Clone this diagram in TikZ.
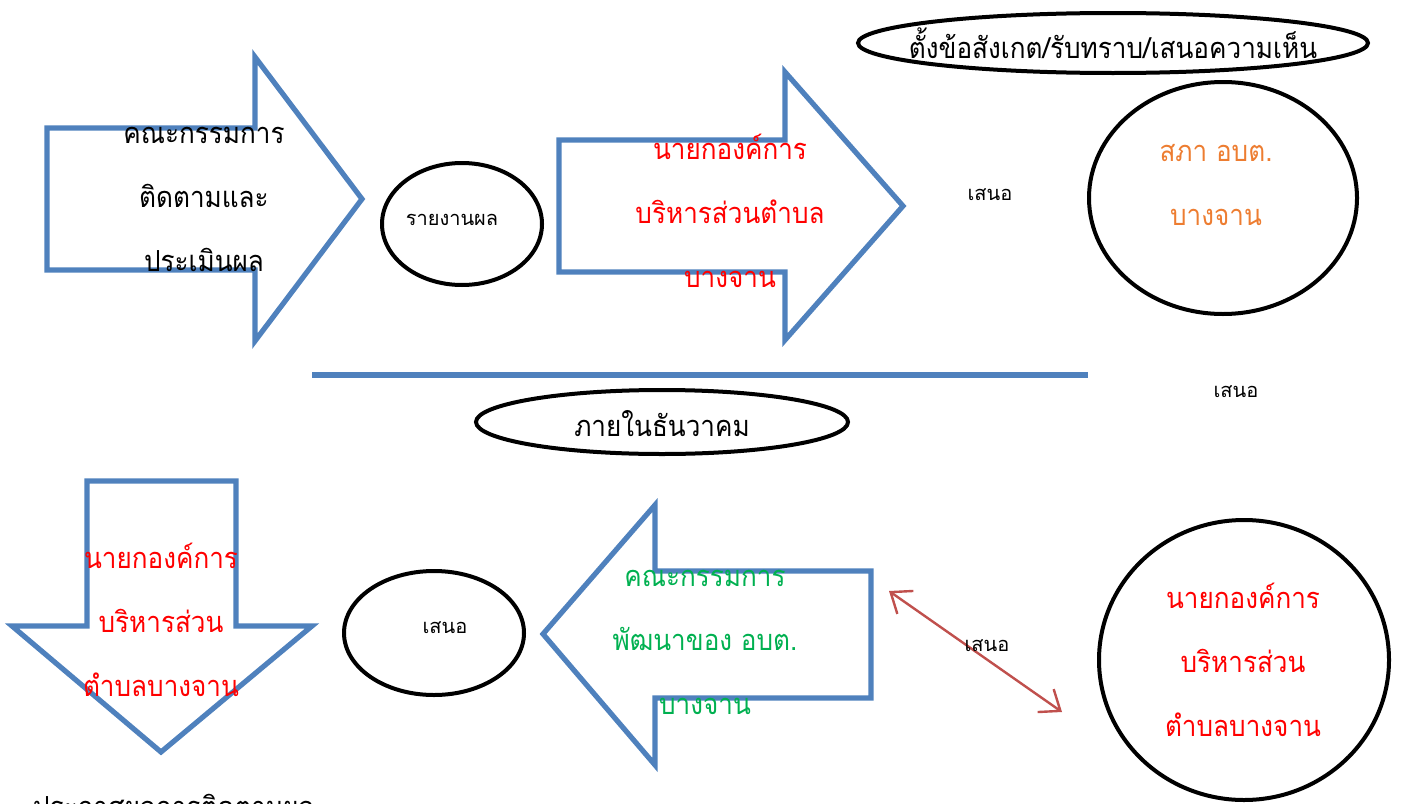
\documentclass[tikz,border=0pt]{standalone}
\usepackage{fontspec}
\newfontfamily\thaifont[Script=Thai,FakeStretch=0.9]{Loma}
\newfontfamily\thaismall[Script=Thai]{Loma}
\usetikzlibrary{arrows.meta}

\definecolor{arrowblue}{RGB}{79,129,189}
\definecolor{linkred}{RGB}{192,80,77}
\definecolor{txtorange}{RGB}{237,125,49}
\definecolor{txtgreen}{RGB}{0,176,80}

\tikzset{
  bigarrow/.style={draw=arrowblue,line width=2.6pt,line join=miter},
  bubble/.style={draw=black,line width=2pt},
  bigtext/.style={font=\thaifont\fontsize{14.5}{32}\selectfont,align=center},
  smalltext/.style={font=\thaismall\fontsize{10}{12}\selectfont}
}

\begin{document}
\begin{tikzpicture}[x=0.5pt,y=-0.5pt]
\useasboundingbox (0,0) rectangle (1402,803);
\clip (0,0) rectangle (1402,803);

% top row
\draw[bigarrow] (47,128) -- (255,128) -- (255,57) -- (362,199) -- (255,341) -- (255,270) -- (47,270) -- cycle;
\node[bigtext] (committee) at (204,199) {คณะกรรมการ\\ติดตามและ\\ประเมินผล};

\draw[bubble] (462,224) ellipse (80 and 61);
\node[smalltext] (report) at (452,220) {รายงานผล};

\draw[bigarrow] (559,140) -- (785,140) -- (785,72) -- (903,206) -- (785,340) -- (785,272) -- (559,272) -- cycle;
\node[bigtext,red] (mayor) at (730,211) {นายกองค์การ\\บริหารส่วนตำบล\\บางจาน};

\node[smalltext] (propose1) at (990,195) {เสนอ};

\draw[bubble] (1223,198) ellipse (134 and 116);
\node[bigtext,txtorange] (council) at (1216,185) {สภา อบต.\\บางจาน};

\draw[bubble] (1113,43) ellipse (255 and 30);
\node[bigtext] (remark) at (1113,43) {ตั้งข้อสังเกต/รับทราบ/เสนอความเห็น};

% divider
\coordinate (divl) at (312,375);
\coordinate (divr) at (1088,375);
\draw[draw=arrowblue,line width=2.6pt] (divl) -- (divr);

\node[smalltext] (propose2) at (1236,392) {เสนอ};

\draw[bubble] (662,422) ellipse (186 and 32);
\node[bigtext] (deadline) at (662,424) {ภายในธันวาคม};

% bottom row
\draw[bigarrow] (87,481) -- (236,481) -- (236,626) -- (312,626) -- (161,752) -- (12,626) -- (87,626) -- cycle;
\node[bigtext,red] (mayor2) at (161,620) {นายกองค์การ\\บริหารส่วน\\ตำบลบางจาน};

\draw[bubble] (434,633) ellipse (90 and 62);
\node[smalltext] (propose3) at (445,628) {เสนอ};

\draw[bigarrow] (871,571) -- (655,571) -- (655,505) -- (543,634) -- (655,765) -- (655,698) -- (871,698) -- cycle;
\node[bigtext,txtgreen] (devboard) at (705,642) {คณะกรรมการ\\พัฒนาของ อบต.\\บางจาน};

\draw[bubble] (1244,660) ellipse (145 and 140);
\node[bigtext,red] (mayor3) at (1243,660) {นายกองค์การ\\บริหารส่วน\\ตำบลบางจาน};

\coordinate (linka) at (889,591);
\coordinate (linkb) at (1062,712);
\draw[linkred,line width=1.2pt,{Straight Barb[length=9pt,width=14pt]}-{Straight Barb[length=9pt,width=14pt]}] (linka) -- (linkb);
\node[smalltext] (propose4) at (987,646) {เสนอ};

\node[bigtext,anchor=west] (announce) at (26,806) {ประกาศผลการติดตามผล};
\end{tikzpicture}
\end{document}
